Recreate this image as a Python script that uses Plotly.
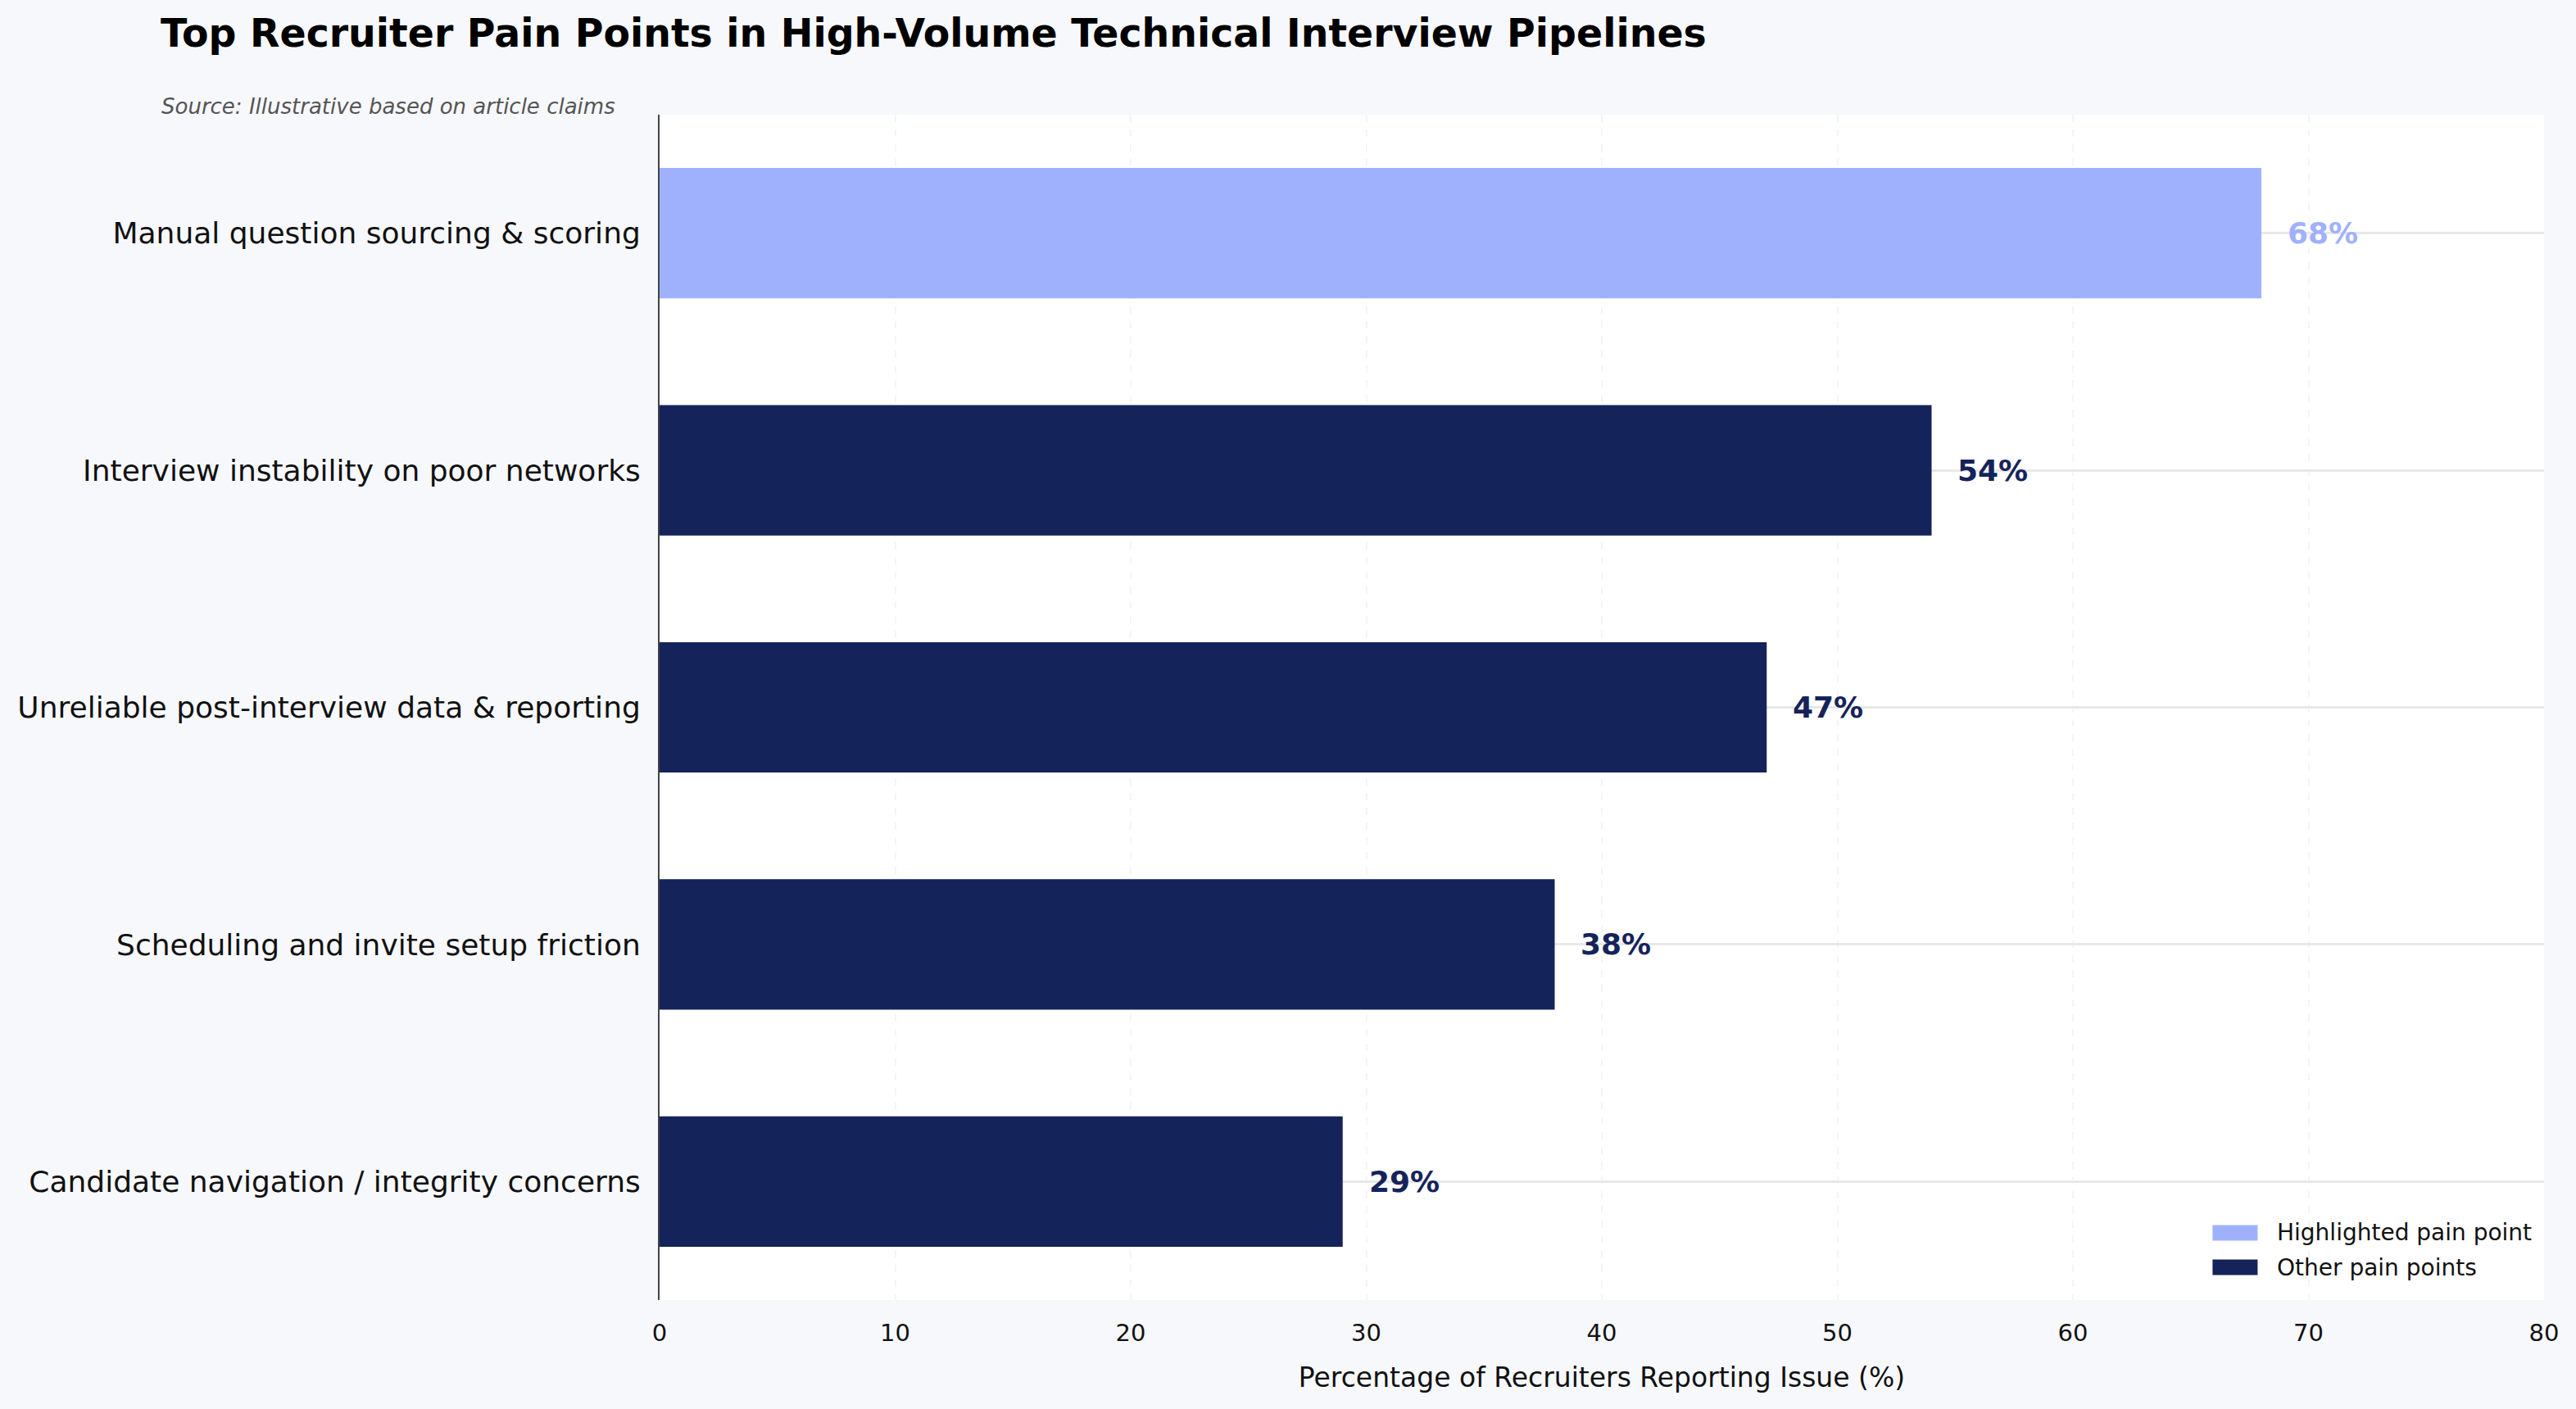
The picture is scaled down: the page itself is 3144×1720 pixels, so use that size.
import plotly.graph_objects as go

# data
categories = [
    "Manual question sourcing & scoring",
    "Interview instability on poor networks",
    "Unreliable post-interview data & reporting",
    "Scheduling and invite setup friction",
    "Candidate navigation / integrity concerns",
]
values = [68, 54, 47, 38, 29]
highlight = ["Manual question sourcing & scoring"]
x_ticks = [0, 10, 20, 30, 40, 50, 60, 70, 80]
legend_names = ["Highlighted pain point", "Other pain points"]

LIGHT = "#9FB1FD"
DARK = "#15235B"
FONT = "DejaVu Sans"

hi_cat = [c for c in categories if c in highlight]
hi_val = [v for c, v in zip(categories, values) if c in highlight]
lo_cat = [c for c in categories if c not in highlight]
lo_val = [v for c, v in zip(categories, values) if c not in highlight]

fig = go.Figure()
fig.add_trace(go.Bar(y=hi_cat, x=hi_val, orientation="h", name=legend_names[0],
                     marker=dict(color=LIGHT, line=dict(width=0)), width=0.55, showlegend=False))
fig.add_trace(go.Bar(y=lo_cat, x=lo_val, orientation="h", name=legend_names[1],
                     marker=dict(color=DARK, line=dict(width=0)), width=0.55, showlegend=False))

# value labels to the right of each bar
for c, v in zip(categories, values):
    col = LIGHT if c in highlight else DARK
    fig.add_annotation(x=v + 1, y=c, text="<b>%d%%</b>" % v, showarrow=False,
                       xanchor="left", yanchor="middle", xshift=1,
                       font=dict(family=FONT, size=36, color=col))

# legend drawn by hand, matplotlib style wide patches
for i, (nm, col) in enumerate(zip(legend_names, [LIGHT, DARK])):
    yc = 0.0567 - i * 0.0291
    fig.add_shape(type="rect", xref="paper", yref="paper", x0=0.8241, x1=0.8480,
                  y0=yc - 0.0066, y1=yc + 0.0066, fillcolor=col, line=dict(width=0))
    fig.add_annotation(xref="paper", yref="paper", x=0.8576, y=yc, text=nm, showarrow=False,
                       xanchor="left", yanchor="middle",
                       font=dict(family=FONT, size=28, color="#111111"))

fig.add_annotation(xref="paper", yref="paper", x=-0.2652, y=1.007,
                   text="<i>Source: Illustrative based on article claims</i>",
                   showarrow=False, xanchor="left", yanchor="middle",
                   font=dict(family=FONT, size=26, color="#555555"))

fig.update_layout(
    width=3144, height=1720,
    paper_bgcolor="#F7F8FC", plot_bgcolor="#FFFFFF",
    font=dict(family=FONT, color="#111111"),
    barmode="overlay",
    margin=dict(l=805, r=39, t=140, b=133),
    title=dict(text="<b>Top Recruiter Pain Points in High-Volume Technical Interview Pipelines</b>",
               xref="container", yref="container", x=196 / 3144, y=1 - 40 / 1720,
               xanchor="left", yanchor="middle",
               font=dict(family=FONT, size=47.4, color="#000000")),
    showlegend=False,
)
fig.update_xaxes(range=[0, 80], tickvals=x_ticks, showgrid=True, gridcolor="#F5F5F5",
                 griddash="dash", gridwidth=2, zeroline=False, showline=False, ticks="",
                 tickfont=dict(family=FONT, size=29, color="#111111"), ticklabelstandoff=20,
                 title=dict(text="Percentage of Recruiters Reporting Issue (%)",
                            font=dict(family=FONT, size=33, color="#111111"), standoff=26))
fig.update_yaxes(categoryorder="array", categoryarray=categories, range=[4.5, -0.5],
                 showgrid=True, gridcolor="#E8E8E8", gridwidth=3, zeroline=False,
                 showline=True, linecolor="#444444", linewidth=2, ticks="",
                 tickfont=dict(family=FONT, size=36, color="#111111"), ticklabelstandoff=14)

fig.write_html("out.html", config={"displayModeBar": False},
               post_script="document.body.style.margin='0';")
